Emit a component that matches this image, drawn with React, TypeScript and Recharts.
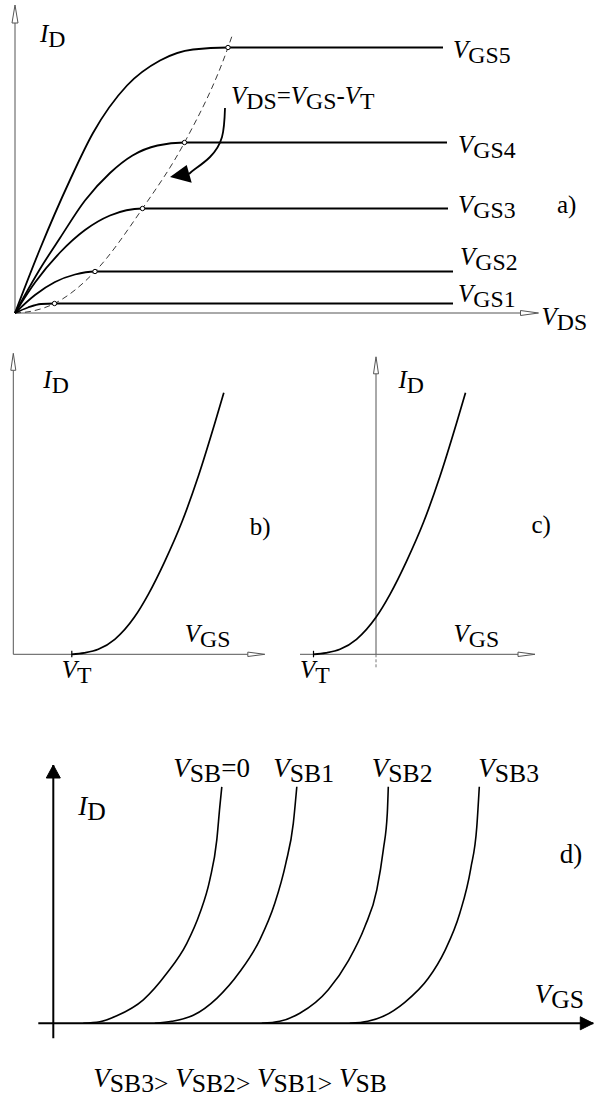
import React from 'react';
import { ComposedChart, Line, XAxis, YAxis, ReferenceLine, ReferenceDot } from 'recharts';

type Pair = [number, number];
type Part = { t: string; it?: boolean; sub?: boolean };

const FONT = "'Liberation Serif', 'Times New Roman', serif";
const PX = 50; // pixels per unit on every panel

// ---------- a) output characteristics I_D(V_DS) ----------
const outGs1: Pair[] = [[0, 0], [0.26, 0.11], [0.52, 0.18], [0.79, 0.19], [8.76, 0.19]];
const outGs2: Pair[] = [[0, 0], [0.4, 0.36], [0.8, 0.62], [1.2, 0.77], [1.6, 0.83], [8.76, 0.83]];
const outGs3: Pair[] = [[0, 0], [0.4, 0.61], [0.9, 1.21], [1.4, 1.66], [1.9, 1.95], [2.55, 2.09], [8.66, 2.09]];
const outGs4: Pair[] = [[0, 0], [0.5, 0.88], [0.9, 1.5], [1.4, 2.25], [1.9, 2.8], [2.35, 3.15], [2.85, 3.35], [3.39, 3.41], [8.64, 3.41]];
const outGs5: Pair[] = [[0, 0], [0.5, 1.28], [1.1, 2.66], [1.56, 3.6], [2.24, 4.55], [2.9, 5.05], [3.56, 5.27], [4.26, 5.31], [8.56, 5.31]];
const outCurves = [outGs1, outGs2, outGs3, outGs4, outGs5];
const outNames = ['GS1', 'GS2', 'GS3', 'GS4', 'GS5'];
const outLabelAt: Pair[] = [[8.86, 0.23], [8.9, 0.96], [8.86, 2.0], [8.86, 3.2], [8.76, 5.1]];
const saturationEdge: Pair[] = [[0, 0], [0.3, 0.03], [0.79, 0.19], [1.6, 0.83], [2.55, 2.09], [3.39, 3.41], [4.26, 5.31], [4.34, 5.54]];
const kneePoints: Pair[] = [[0.79, 0.19], [1.6, 0.83], [2.55, 2.09], [3.39, 3.41], [4.26, 5.31]];
const pointerPath: Pair[] = [[4.2, 4.1], [4.14, 3.52], [3.9, 3.12], [3.6, 2.88], [3.48, 2.78]];
const pointerTip: Pair = [3.1, 2.72];

// ---------- b) transfer characteristic, enhancement ----------
const transferB: Pair[] = [[1.17, 0], [1.42, 0.03], [1.7, 0.1], [2.03, 0.3], [2.42, 0.74], [2.7, 1.2], [3.03, 1.86], [3.37, 2.64], [3.7, 3.56], [4.03, 4.62], [4.21, 5.23]];
const vtB = 1.17;

// ---------- c) transfer characteristic, depletion ----------
const transferC: Pair[] = [[-1.25, 0], [-1.0, 0.03], [-0.72, 0.1], [-0.39, 0.3], [0, 0.74], [0.28, 1.2], [0.61, 1.86], [0.95, 2.64], [1.28, 3.56], [1.61, 4.62], [1.79, 5.23]];
const vtC = -1.25;

// ---------- d) body effect ----------
const sb0: Pair[] = [[0.6, 0], [0.93, 0.03], [1.27, 0.15], [1.8, 0.47], [2.27, 1.0], [2.67, 1.6], [2.93, 2.2], [3.13, 2.87], [3.27, 3.67], [3.33, 4.33], [3.37, 4.73]];
const sb1: Pair[] = [[2.03, 0], [2.37, 0.04], [2.8, 0.16], [3.27, 0.5], [3.73, 1.03], [4.13, 1.67], [4.43, 2.4], [4.65, 3.2], [4.8, 4.0], [4.87, 4.73]];
const sb2: Pair[] = [[4.17, 0], [4.53, 0.04], [4.93, 0.2], [5.5, 0.67], [5.9, 1.25], [6.23, 1.93], [6.47, 2.67], [6.6, 3.47], [6.68, 4.2], [6.7, 4.73]];
const sb3: Pair[] = [[5.93, 0], [6.29, 0.04], [6.6, 0.14], [7.03, 0.42], [7.5, 0.9], [7.83, 1.45], [8.13, 2.2], [8.35, 3.1], [8.47, 3.93], [8.52, 4.73]];
const sbCurves = [sb0, sb1, sb2, sb3];
const sbNames = ['SB', 'SB1', 'SB2', 'SB3'];
const sbSuffix = ['=0', '', '', ''];
const sbLabelAt: Pair[] = [[2.4, 4.93], [4.4, 4.93], [6.37, 4.93], [8.5, 4.93]];

const toPts = (arr: Pair[]) => arr.map(([x, y]) => ({ x, y }));
const V = (sub: string, tail?: string): Part[] => {
  const parts: Part[] = [{ t: 'V', it: true }, { t: sub, sub: true }];
  if (tail) parts.push({ t: tail });
  return parts;
};
const ID: Part[] = [{ t: 'I', it: true }, { t: 'D', sub: true }];

function RichText({ x, y, parts, size }: { x: number; y: number; parts: Part[]; size: number }) {
  const shift = Math.round(size * 0.2);
  let low = false;
  return (
    <text x={x} y={y} fill="#000" style={{ fontFamily: FONT, fontSize: size }}>
      {parts.map((p, i) => {
        let dy = 0;
        if (p.sub && !low) { dy = shift; low = true; }
        else if (!p.sub && low) { dy = -shift; low = false; }
        return (
          <tspan key={i} dy={dy}
            style={{ fontFamily: FONT, fontStyle: p.it ? 'italic' : 'normal', fontSize: p.sub ? size * 0.95 : size }}>
            {p.t}
          </tspan>
        );
      })}
    </text>
  );
}

const label = (key: string, at: Pair, parts: Part[], size: number) => (
  <ReferenceDot key={key} x={at[0]} y={at[1]} r={0} ifOverflow="visible"
    shape={(p: any) => <RichText x={p.cx} y={p.cy} parts={parts} size={size} />} />
);

const curve = (key: string, data: Pair[], extra: Record<string, unknown> = {}) => (
  <Line key={key} data={toPts(data)} dataKey="y" type="monotone" stroke="#000" strokeWidth={1.8}
    dot={false} activeDot={false} isAnimationActive={false} legendType="none" {...extra} />
);

const segment = (key: string, a: Pair, b: Pair, color: string, width: number, dash?: string) => (
  <ReferenceLine key={key} segment={[{ x: a[0], y: a[1] }, { x: b[0], y: b[1] }]} ifOverflow="visible"
    stroke={color} strokeWidth={width} strokeDasharray={dash} />
);

// arrow heads pointing right or up, hollow or solid
const arrowHead = (key: string, tip: Pair, dir: 'right' | 'up', len: number, half: number, solid: boolean, color: string) => (
  <ReferenceDot key={key} x={tip[0]} y={tip[1]} r={0} ifOverflow="visible"
    shape={(p: any) => {
      const { cx, cy } = p;
      const pts = dir === 'right'
        ? `${cx},${cy} ${cx - len},${cy - half} ${cx - len},${cy + half}`
        : `${cx},${cy} ${cx - half},${cy + len} ${cx + half},${cy + len}`;
      return <polygon points={pts} fill={solid ? color : '#fff'} stroke={color} strokeWidth={1} />;
    }} />
);

// axis with arrow head: line stops at the head base
const axis = (key: string, from: Pair, tip: Pair, dir: 'right' | 'up', len: number, half: number, solid: boolean, color: string, width: number) => {
  const base: Pair = dir === 'right' ? [tip[0] - len / PX, tip[1]] : [tip[0], tip[1] - len / PX];
  return [
    segment(key + '-l', from, solid ? tip : base, color, width),
    arrowHead(key + '-h', tip, dir, len, half, solid, color),
  ];
};

function Panel({ left, top, width, height, xDomain, yDomain, children }: any) {
  return (
    <div style={{ position: 'absolute', left, top, width, height }}>
      <ComposedChart width={width} height={height} margin={{ top: 0, right: 0, bottom: 0, left: 0 }}>
        <XAxis hide type="number" dataKey="x" domain={xDomain} allowDataOverflow />
        <YAxis hide type="number" dataKey="y" domain={yDomain} allowDataOverflow />
        {children}
      </ComposedChart>
    </div>
  );
}

const AXIS_GREY = '#555';
const FS = 25;
const FS_D = 27;

export default function App() {
  const formula: Part[] = [
    { t: 'V', it: true }, { t: 'DS', sub: true }, { t: '=' },
    { t: 'V', it: true }, { t: 'GS', sub: true }, { t: '-' },
    { t: 'V', it: true }, { t: 'T', sub: true },
  ];
  const order: Part[] = [
    { t: 'V', it: true }, { t: 'SB3>', sub: true }, { t: ' ' },
    { t: 'V', it: true }, { t: 'SB2>', sub: true }, { t: ' ' },
    { t: 'V', it: true }, { t: 'SB1>', sub: true }, { t: ' ' },
    { t: 'V', it: true }, { t: 'SB', sub: true },
  ];

  return (
    <div style={{ position: 'absolute', left: 0, top: 0, width: 595, height: 1099, background: '#fff', overflow: 'hidden' }}>
      {/* a) */}
      <Panel left={0} top={0} width={595} height={340} xDomain={[-0.3, 11.6]} yDomain={[-0.54, 6.26]}>
        {axis('ax', [0, 0], [10.47, 0], 'right', 18, 2.5, false, AXIS_GREY, 1)}
        {axis('ay', [0, 0], [0, 6.16], 'up', 18, 3, false, AXIS_GREY, 1)}
        {curve('edge', saturationEdge, { stroke: '#222', strokeWidth: 0.9, strokeDasharray: '6 4' })}
        {outCurves.map((c, i) => curve('gs' + i, c))}
        {curve('knees', kneePoints, { stroke: 'none', dot: { r: 2.2, fill: '#fff', stroke: '#000', strokeWidth: 1 } })}
        {curve('ptr', pointerPath, { type: 'natural', strokeWidth: 1.8 })}
        <ReferenceDot x={pointerTip[0]} y={pointerTip[1]} r={0} ifOverflow="visible"
          shape={(p: any) => (
            <polygon points={`${p.cx},${p.cy} ${p.cx + 21.7},${p.cy + 5.7} ${p.cx + 16.7},${p.cy - 12}`} fill="#000" />
          )} />
        {label('aid', [0.5, 5.42], ID, FS)}
        {label('aform', [4.32, 4.19], formula, FS)}
        {outNames.map((n, i) => label('an' + i, outLabelAt[i], V(n), FS))}
        {label('atag', [10.84, 2.0], [{ t: 'a)' }], FS)}
        {label('avds', [10.53, -0.24], V('DS'), FS)}
      </Panel>

      {/* b) */}
      <Panel left={0} top={330} width={295} height={370} xDomain={[-0.266, 5.634]} yDomain={[-0.914, 6.486]}>
        {axis('bx', [0, 0], [5.03, 0], 'right', 17, 2.2, false, AXIS_GREY, 1)}
        {axis('by', [0, 0], [0, 6.02], 'up', 17, 2.5, false, AXIS_GREY, 1)}
        {segment('bvt', [vtB, -0.06], [vtB, 0.07], '#000', 1.2)}
        {curve('tb', transferB, { strokeWidth: 1.7 })}
        {label('bid', [0.6, 5.32], ID, FS)}
        {label('btag', [4.73, 2.39], [{ t: 'b)' }], FS)}
        {label('bvgs', [3.43, 0.25], V('GS'), FS)}
        {label('bvt', [0.97, -0.48], V('T'), FS)}
      </Panel>

      {/* c) */}
      <Panel left={295} top={330} width={300} height={370} xDomain={[-1.62, 4.38]} yDomain={[-0.914, 6.486]}>
        {axis('cx', [-1.52, 0], [3.18, 0], 'right', 17, 2.2, false, AXIS_GREY, 1)}
        {axis('cy', [0, 0], [0, 5.95], 'up', 17, 2.5, false, AXIS_GREY, 1)}
        {segment('cyd', [0, 0], [0, -0.28], '#777', 1, '3 2')}
        {segment('cvt', [vtC, -0.06], [vtC, 0.07], '#000', 1.2)}
        {curve('tc', transferC, { strokeWidth: 1.7 })}
        {label('cid', [0.45, 5.32], ID, FS)}
        {label('ctag', [3.11, 2.42], [{ t: 'c)' }], FS)}
        {label('cvgs', [1.55, 0.25], V('GS'), FS)}
        {label('cvt', [-1.52, -0.48], V('T'), FS)}
      </Panel>

      {/* d) */}
      <Panel left={0} top={740} width={595} height={359} xDomain={[-1.066, 10.834]} yDomain={[-1.514, 5.666]}>
        {axis('dx', [-0.3, 0], [10.8, 0], 'right', 13, 6.5, true, '#000', 2)}
        {axis('dy', [0, -0.3], [0, 5.166], 'up', 13, 7, true, '#000', 2)}
        {sbCurves.map((c, i) => curve('sb' + i, c, { strokeWidth: 1.6 }))}
        {sbNames.map((n, i) => label('dn' + i, sbLabelAt[i], V(n, sbSuffix[i]), FS_D))}
        {label('did', [0.5, 4.17], ID, FS_D)}
        {label('dtag', [10.13, 3.2], [{ t: 'd)' }], FS_D)}
        {label('dvgs', [9.63, 0.4], V('GS'), FS_D)}
        {label('dord', [0.8, -1.27], order, FS_D)}
      </Panel>
    </div>
  );
}
